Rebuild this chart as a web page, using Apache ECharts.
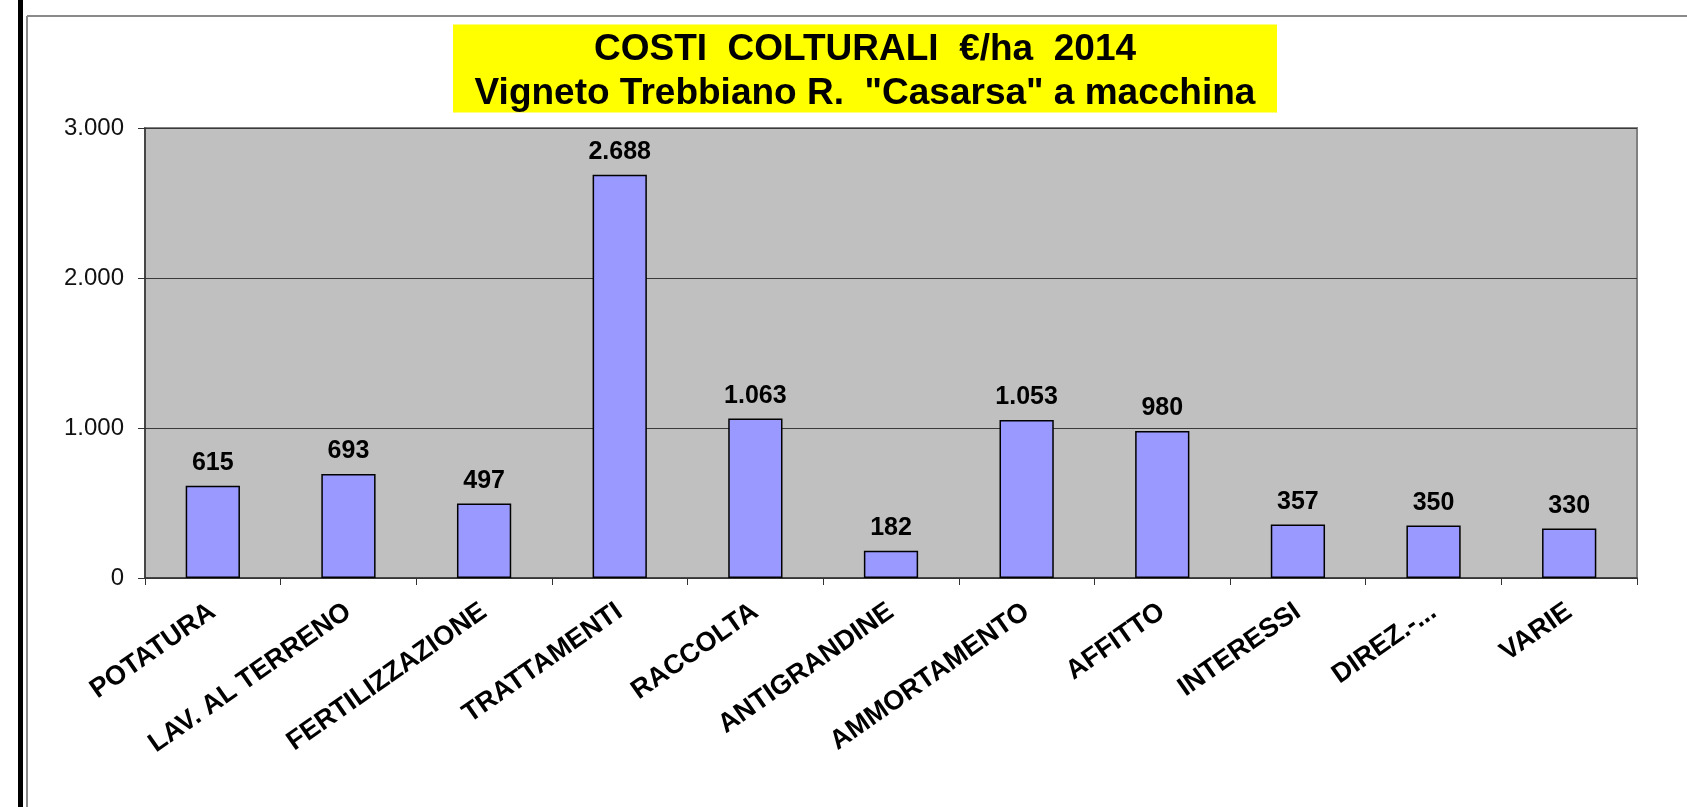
<!DOCTYPE html>
<html lang="it">
<head>
    <meta charset="UTF-8">
    <script src="https://cdn.jsdelivr.net/npm/echarts@6/dist/echarts.min.js"></script>
    <title>Costi colturali</title>
    <style>
        html, body { margin: 0; padding: 0; background: #ffffff; }
        #chart { width: 1687px; height: 807px; }
    </style>
</head>
<body>
    <div id="chart"></div>

    <script type="text/javascript">
        var categories = ['POTATURA', 'LAV. AL TERRENO', 'FERTILIZZAZIONE', 'TRATTAMENTI', 'RACCOLTA',
            'ANTIGRANDINE', 'AMMORTAMENTO', 'AFFITTO', 'INTERESSI', 'DIREZ.-...', 'VARIE'];
        var costs = [615, 693, 497, 2688, 1063, 182, 1053, 980, 357, 350, 330];
        var yTicks = [0, 1000, 2000, 3000];

        // numeri all'italiana: 2.688
        function fmt(v) {
            return String(v).replace(/\B(?=(\d{3})+(?!\d))/g, '.');
        }

        var font = '"Liberation Sans", Arial, sans-serif';
        var chart = echarts.init(document.getElementById('chart'));

        chart.setOption({
            animation: false,
            backgroundColor: '#ffffff',
            title: {
                text: '{a|COSTI  COLTURALI  €/ha  2014}\n{a|Vigneto Trebbiano R.  "Casarsa" a macchina}',
                left: 453,
                top: 21,
                padding: [7, 20, 0, 20],
                backgroundColor: '#ffff00',
                textStyle: {
                    rich: {
                        a: {
                            width: 784,
                            align: 'center',
                            fontFamily: font,
                            fontWeight: 'bold',
                            fontSize: 37,
                            lineHeight: 44,
                            color: '#000'
                        }
                    }
                }
            },
            graphic: [
                { type: 'rect', shape: { x: 18, y: 0, width: 5, height: 807 }, style: { fill: '#000' } },
                { type: 'line', shape: { x1: 27, y1: 16, x2: 27, y2: 807 }, style: { stroke: '#8a8a8a', lineWidth: 2 } },
                { type: 'line', shape: { x1: 27, y1: 16, x2: 1687, y2: 16 }, style: { stroke: '#8a8a8a', lineWidth: 2 } }
            ],
            grid: {
                left: 145,
                right: 50,
                top: 128,
                bottom: 229,
                show: true,
                backgroundColor: '#c0c0c0',
                borderColor: '#808080',
                borderWidth: 2
            },
            xAxis: {
                type: 'category',
                data: categories,
                axisLine: { lineStyle: { color: '#333', width: 1.5 } },
                axisTick: { show: true, length: 7, lineStyle: { color: '#333' } },
                axisLabel: {
                    interval: 0,
                    rotate: 35,
                    margin: 31,
                    fontFamily: font,
                    fontWeight: 'bold',
                    fontSize: 27,
                    color: '#000'
                }
            },
            yAxis: {
                type: 'value',
                min: yTicks[0],
                max: yTicks[yTicks.length - 1],
                interval: 1000,
                axisLine: { show: true, lineStyle: { color: '#333', width: 1.5 } },
                axisTick: { show: true, length: 7, lineStyle: { color: '#333' } },
                splitLine: { lineStyle: { color: '#3a3a3a', width: 1 } },
                axisLabel: {
                    margin: 21,
                    fontFamily: font,
                    fontSize: 24,
                    color: '#111',
                    formatter: fmt
                }
            },
            series: [{
                type: 'bar',
                data: costs,
                barCategoryGap: '60%',
                itemStyle: { color: '#9999ff', borderColor: '#000', borderWidth: 1.5 },
                label: {
                    show: true,
                    position: 'top',
                    distance: 10,
                    fontFamily: font,
                    fontWeight: 'bold',
                    fontSize: 25,
                    color: '#000',
                    formatter: function (p) { return fmt(p.value); }
                }
            }]
        });
    </script>
</body>
</html>
